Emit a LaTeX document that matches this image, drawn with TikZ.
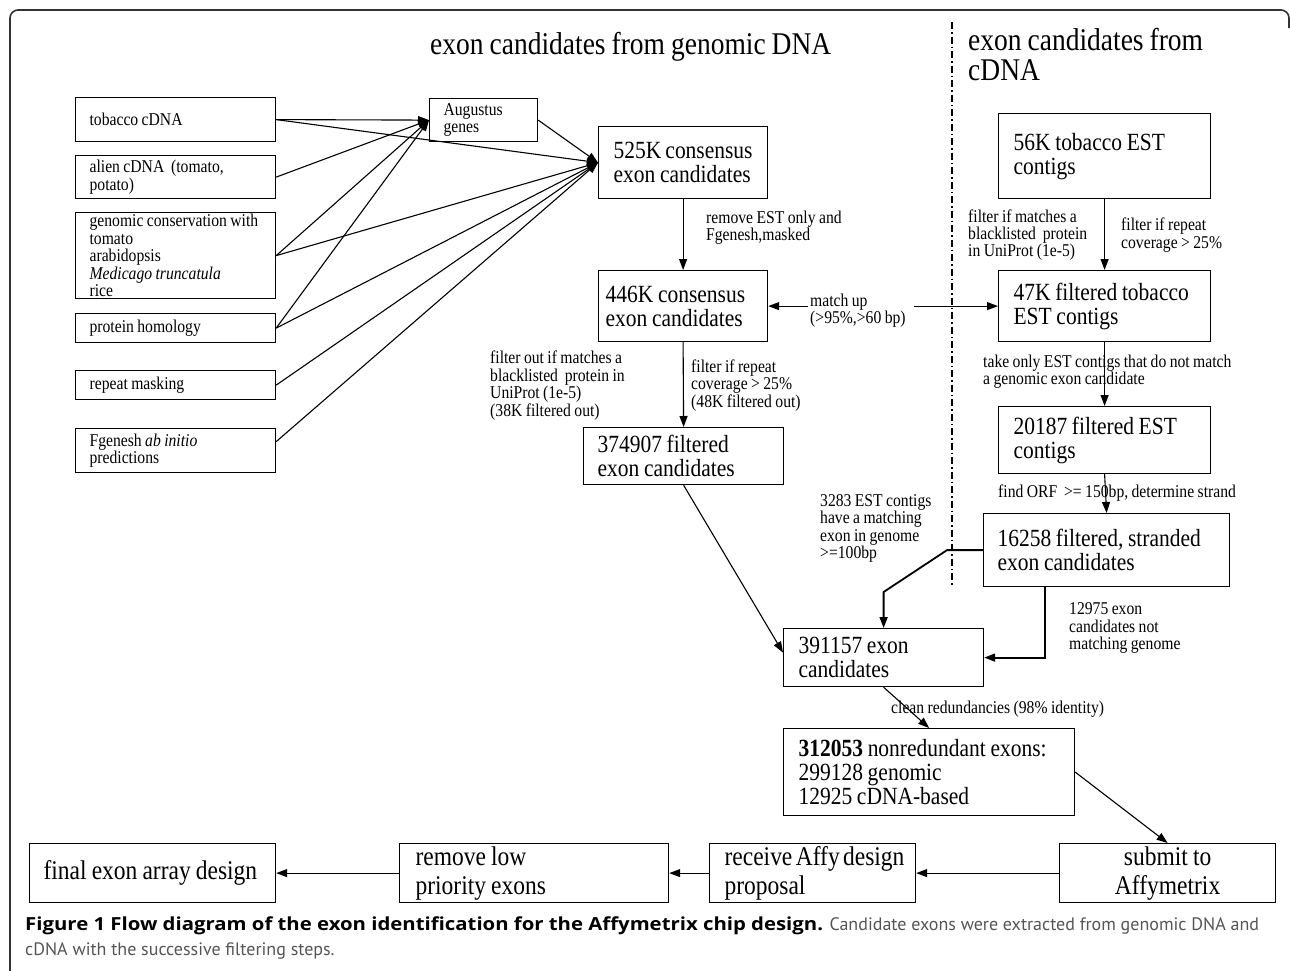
\documentclass[tikz,border=0pt]{standalone}
\usepackage{fontspec}
\setmainfont{Liberation Serif}[FakeStretch=0.87,WordSpace=0.87]
\newfontfamily\capfont{PT Sans}
\newfontfamily\capbold{Open Sans}[UprightFont=* Bold,FakeStretch=1.13]
\usetikzlibrary{arrows.meta,calc}
\definecolor{capgray}{HTML}{555555}
\definecolor{framegray}{HTML}{333333}
\hyphenpenalty=10000
\exhyphenpenalty=10000
\newcommand\fbig{\fontsize{24.7pt}{24pt}\selectfont}
\newcommand\fsmall{\fontsize{18pt}{17.4pt}\selectfont}
\newcommand\ftitle{\fontsize{31.6pt}{30pt}\selectfont}
\newcommand\fbot{\fontsize{27pt}{29pt}\selectfont}
\newcommand\fcap{\fontsize{18pt}{23pt}\selectfont}
\begin{document}
\begin{tikzpicture}[x=1pt,y=-1pt,
  every node/.style={inner sep=0pt},
  box/.style={draw, line width=1.2pt, rectangle, anchor=north west, inner xsep=15pt, inner ysep=0pt, align=flush left},
  sbox/.style={box, inner xsep=14pt, font=\fsmall},
  bbox/.style={box, font=\fbig},
  botbox/.style={box, font=\fbot},
  lbl/.style={anchor=west, align=left, font=\fsmall},
  arr/.style={line width=1.1pt, -{Triangle[length=11pt,width=8pt]}},
  thickarr/.style={arr, line width=1.8pt},
  dashdot/.style={line width=1.3pt, dash pattern=on 7pt off 3pt on 1.5pt off 3pt},
]
\useasboundingbox (0,0) rectangle (1290,970);

% frame
\draw[framegray, line width=1.6pt, rounded corners=8pt] (10,975) -- (10,10) -- (1289,10) -- (1289,28);

% titles
\node[anchor=west, font=\ftitle] (t1) at (430,47) {exon candidates from genomic DNA};
\node[anchor=west, align=left, font=\ftitle] (t2) at (968,55) {exon candidates from\\cDNA};

% separator
\draw[dashdot] (952,22) -- (952,585);

% left sources
\node[sbox, minimum width=200pt, minimum height=44pt, text width=172pt] (tob) at (75,97) {tobacco~cDNA};
\node[sbox, minimum width=200pt, minimum height=43pt, text width=172pt] (ali) at (75,155) {alien~cDNA~~(tomato,\\potato)};
\node[sbox, minimum width=200pt, minimum height=86pt, text width=172pt] (gen) at (75,212) {genomic~conservation~with\\tomato\\arabidopsis\\\textit{Medicago~truncatula}\\rice};
\node[sbox, minimum width=200pt, minimum height=29pt, text width=172pt] (pro) at (75,313) {protein~homology};
\node[sbox, minimum width=200pt, minimum height=29pt, text width=172pt] (rep) at (75,370) {repeat~masking};
\node[sbox, minimum width=200pt, minimum height=44pt, text width=172pt] (fge) at (75,428) {Fgenesh~\textit{ab~initio}\\predictions};
\node[sbox, minimum width=108pt, minimum height=43pt, text width=80pt] (aug) at (429,98) {Augustus\\genes};

% genomic column
\node[bbox, minimum width=169pt, minimum height=72pt, text width=139pt] (c525) at (598,126) {525K~consensus\\exon~candidates};
\node[bbox, inner xsep=7pt, minimum width=169pt, minimum height=71pt, text width=155pt] (c446) at (598,270) {446K~consensus\\exon~candidates};
\node[bbox, inner xsep=14pt, minimum width=200pt, minimum height=57pt, text width=172pt] (f374) at (583,427) {374907~filtered\\exon~candidates};

% cDNA column
\node[bbox, minimum width=212pt, minimum height=85pt, text width=182pt] (c56) at (998,113) {56K~tobacco~EST\\contigs};
\node[bbox, minimum width=212pt, minimum height=71pt, text width=182pt] (c47) at (998,270) {47K~filtered~tobacco\\EST~contigs};
\node[bbox, minimum width=212pt, minimum height=67pt, text width=182pt] (c201) at (998,406) {20187~filtered~EST\\contigs};
\node[bbox, inner xsep=14pt, minimum width=246pt, minimum height=73pt, text width=218pt] (c162) at (983,513) {16258~filtered,~stranded\\exon~candidates};

% merge
\node[bbox, minimum width=200pt, minimum height=58pt, text width=170pt] (c391) at (783,628) {391157~exon\\candidates};
\node[bbox, minimum width=291pt, minimum height=87pt, text width=261pt] (c312) at (783,728) {\textbf{312053}~nonredundant~exons:\\299128~genomic\\12925~cDNA-based};

% bottom row
\node[botbox, inner xsep=14pt, minimum width=246pt, minimum height=59pt, text width=218pt] (fin) at (29,843) {final~exon~array~design};
\node[botbox, inner xsep=16pt, minimum width=269pt, minimum height=59pt, text width=237pt] (rem) at (399,843) {remove~low\\priority~exons};
\node[botbox, minimum width=206pt, minimum height=59pt, text width=176pt] (rec) at (709,843) {receive~Affy~design\\proposal};
\node[botbox, align=flush center, minimum width=216pt, minimum height=59pt, text width=186pt] (sub) at (1059,843) {submit~to\\Affymetrix};

% labels
\node[lbl] (l1) at (706,227.5) {remove EST only and\\Fgenesh,masked};
\node[lbl] (l2) at (490,385.5) {filter out if matches a\\blacklisted~~protein in\\UniProt (1e-5)\\(38K filtered out)};
\node[lbl] (l3) at (691,385.5) {filter if repeat\\coverage > 25\%\\(48K filtered out)};
\node[lbl] (mu) at (810,310.5) {match up\\(>95\%,>60 bp)};
\node[lbl] (l5) at (968,235) {filter if matches a\\blacklisted~~protein\\in UniProt (1e-5)};
\node[lbl] (l6) at (1121,235) {filter if repeat\\coverage > 25\%};
\node[lbl] (l7) at (983,371.5) {take only EST contigs that do not match\\a genomic exon candidate};
\node[lbl] (l8) at (998,493) {find ORF~~>= 150bp, determine strand};
\node[lbl] (l9) at (820,528.5) {3283 EST contigs\\have a matching\\exon in genome\\>=100bp};
\node[lbl] (l10) at (1069,628) {12975 exon\\candidates not\\matching genome};
\node[lbl] (l11) at (891,709) {clean redundancies (98\% identity)};

% connectors from sources
\draw[arr] (tob.east) -- (aug.west);
\draw[arr] (tob.east) -- (c525.west);
\draw[arr] (ali.east) -- (aug.west);
\draw[arr] (gen.east) -- (aug.west);
\draw[arr] (gen.east) -- (c525.west);
\draw[arr] (pro.east) -- (aug.west);
\draw[arr] (pro.east) -- (c525.west);
\draw[arr] (rep.east) -- (c525.west);
\draw[arr] ([yshift=9pt]fge.east) -- (c525.west);
\draw[arr] (aug.east) -- (c525.west);

% genomic chain
\draw[arr] (c525.south) -- (c446.north);
\draw[arr] (c446.south) -- (f374.north);
\draw[arr] (f374.south) -- ([yshift=5pt]c391.west);

% match up
\coordinate (muL) at ([xshift=-2pt]mu.west);
\coordinate (muR) at ([xshift=8pt]mu.east);
\draw[arr] (muL |- c446.east) -- (c446.east);
\draw[arr] (muR |- c47.west) -- (c47.west);

% cDNA chain
\draw[arr] (c56.south) -- (c47.north);
\draw[arr] (c47.south) -- (c201.north);
\draw[arr] (c201.south) -- (c162.north);
\coordinate (k1) at ($(c391.north)+(0,-36)$);
\draw[thickarr] (c162.west) -- ++(-36,0) -- (k1) -- (c391.north);
\draw[thickarr] ([xshift=-62pt]c162.south) |- (c391.east);

% final chain
\draw[arr] (c391.south) -- (c312.north);
\draw[arr] (c312.east) -- (sub.north);
\draw[arr] (sub.west) -- (rec.east);
\draw[arr] (rec.west) -- (rem.east);
\draw[arr] (rem.west) -- (fin.east);

% caption
\node[anchor=base west, font=\capfont\fcap] (cap1) at (25,930) {{\capbold Figure 1 Flow diagram of the exon identification for the Affymetrix chip design.} \textcolor{capgray}{Candidate exons were extracted from genomic DNA and}};
\node[anchor=base west, font=\capfont\fcap, text=capgray] (cap2) at (25,955) {cDNA with the successive filtering steps.};
\end{tikzpicture}
\end{document}
